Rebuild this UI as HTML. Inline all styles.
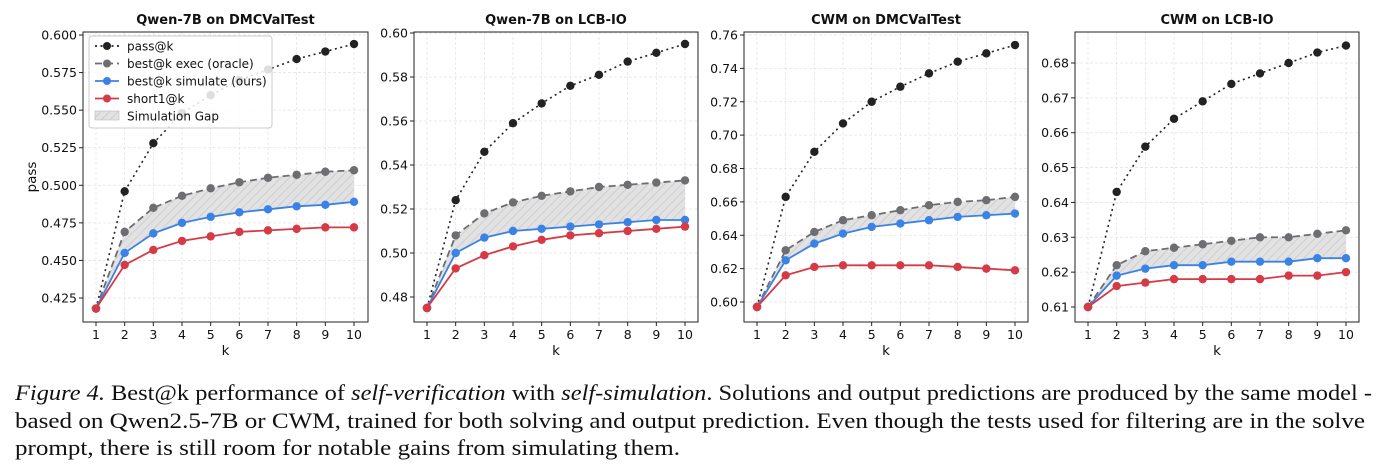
<!DOCTYPE html>
<html><head><meta charset="utf-8"><style>
body{margin:0;background:#fff;width:1385px;height:473px;overflow:hidden}
svg{position:absolute;left:0;top:0}
</style></head><body>
<svg id="fig" width="1385" height="473">
<defs><pattern id="hatch" width="6" height="6" patternUnits="userSpaceOnUse" patternTransform="rotate(45)"><rect width="6" height="6" fill="#e2e2e2"/><line x1="0" y1="0" x2="0" y2="6" stroke="#c8c8c8" stroke-width="1.5"/></pattern></defs>
<g font-family="Liberation Serif, serif" font-size="22" fill="#111">
<text x="15" y="400" textLength="1357" lengthAdjust="spacingAndGlyphs"><tspan font-style="italic">Figure 4.</tspan> Best@k performance of <tspan font-style="italic">self-verification</tspan> with <tspan font-style="italic">self-simulation</tspan>. Solutions and output predictions are produced by the same model -</text>
<text x="15" y="428" textLength="1350" lengthAdjust="spacingAndGlyphs">based on Qwen2.5-7B or CWM, trained for both solving and output prediction. Even though the tests used for filtering are in the solve</text>
<text x="15" y="455" textLength="665" lengthAdjust="spacingAndGlyphs">prompt, there is still room for notable gains from simulating them.</text>
</g>
</svg>
<script>
const ks=[1,2,3,4,5,6,7,8,9,10];
const titles=["Qwen-7B on DMCValTest","Qwen-7B on LCB-IO","CWM on DMCValTest","CWM on LCB-IO"];
const passK=[[.418,.496,.528,.548,.560,.570,.577,.584,.589,.594],[.475,.524,.546,.559,.568,.576,.581,.587,.591,.595],[.597,.663,.690,.707,.720,.729,.737,.744,.749,.754],[.610,.643,.656,.664,.669,.674,.677,.680,.683,.685]];
const execK=[[.418,.469,.485,.493,.498,.502,.505,.507,.509,.510],[.475,.508,.518,.523,.526,.528,.530,.531,.532,.533],[.597,.631,.642,.649,.652,.655,.658,.660,.661,.663],[.610,.622,.626,.627,.628,.629,.630,.630,.631,.632]];
const simK=[[.418,.455,.468,.475,.479,.482,.484,.486,.487,.489],[.475,.500,.507,.510,.511,.512,.513,.514,.515,.515],[.597,.625,.635,.641,.645,.647,.649,.651,.652,.653],[.610,.619,.621,.622,.622,.623,.623,.623,.624,.624]];
const shortK=[[.418,.447,.457,.463,.466,.469,.470,.471,.472,.472],[.475,.493,.499,.503,.506,.508,.509,.510,.511,.512],[.597,.616,.621,.622,.622,.622,.622,.621,.620,.619],[.610,.616,.617,.618,.618,.618,.618,.619,.619,.620]];
const yTicks=[[0.425,0.45,0.475,0.5,0.525,0.55,0.575,0.6],[0.48,0.5,0.52,0.54,0.56,0.58,0.6],[0.6,0.62,0.64,0.66,0.68,0.7,0.72,0.74,0.76],[0.61,0.62,0.63,0.64,0.65,0.66,0.67,0.68]];
const yDec=[3,2,2,2];
const L=[{l:83,r:368,x1:96,x10:354,v0:0.425,p0:298,v1:0.6,p1:35},{l:414,r:698,x1:427,x10:685,v0:0.48,p0:297,v1:0.6,p1:33},{l:744,r:1028,x1:757,x10:1015,v0:0.6,p0:302,v1:0.76,p1:35},{l:1075,r:1359,x1:1088,x10:1346,v0:0.61,p0:307,v1:0.68,p1:63}];
const T=32,B=322,NS="http://www.w3.org/2000/svg";
const svg=document.getElementById('fig');
function mk(tag,a,parent){const e=document.createElementNS(NS,tag);for(const k in a)e.setAttribute(k,a[k]);(parent||svg).appendChild(e);return e;}
const F='"DejaVu Sans","Liberation Sans",sans-serif';
L.forEach((g,i)=>{
  const grp=mk('g',{});
  
  
  const xs=k=>g.x1+(k-1)*(g.x10-g.x1)/9;
  const ys=v=>g.p0+(v-g.v0)*(g.p1-g.p0)/(g.v1-g.v0);
  ks.forEach(k=>{mk('line',{x1:xs(k),x2:xs(k),y1:T,y2:B,stroke:'#e4e4e4','stroke-width':0.8,'stroke-dasharray':'3 2'},grp);
    const t=mk('text',{x:xs(k),y:B+17,'text-anchor':'middle','font-family':F,'font-size':12.5,fill:'#111'},grp);t.textContent=k;
    
    mk('line',{x1:xs(k),x2:xs(k),y1:B,y2:B+4,stroke:'#222'},grp);});
  yTicks[i].forEach(v=>{const y=ys(v);mk('line',{x1:g.l,x2:g.r,y1:y,y2:y,stroke:'#e4e4e4','stroke-width':0.8,'stroke-dasharray':'3 2'},grp);
    mk('line',{x1:g.l-4,x2:g.l,y1:y,y2:y,stroke:'#222'},grp);
    const t=mk('text',{x:g.l-6,y:y+4.5,'text-anchor':'end','font-family':F,'font-size':12.5,fill:'#111'},grp);t.textContent=v.toFixed(yDec[i]);
    });
  let d='M'+ks.map((k,j)=>xs(k)+','+ys(execK[i][j])).join('L')+'L'+ks.slice().reverse().map((k,j)=>xs(k)+','+ys(simK[i][9-j])).join('L')+'Z';
  const ar=mk('path',{d:d,fill:'url(#hatch)',stroke:'none'},grp);
  
  const series=[[passK[i],'#222','1.6','2 3.5','pass-at-k-line'],[execK[i],'#6e6e72','1.8','7 4','best-exec-line'],[simK[i],'#3b82e6','1.8','','best-simulate-line'],[shortK[i],'#d53a45','1.8','','short1-line']];
  series.forEach(s=>{const pth='M'+ks.map((k,j)=>xs(k)+','+ys(s[0][j])).join('L');
    const ln=mk('path',{d:pth,fill:'none',stroke:s[1],'stroke-width':s[2],'stroke-dasharray':s[3]},grp);
    
    ks.forEach((k,j)=>{const c=mk('circle',{cx:xs(k),cy:ys(s[0][j]),r:4.2,fill:s[1]},grp);});});
  mk('rect',{x:g.l,y:T,width:g.r-g.l,height:B-T,fill:'none',stroke:'#222','stroke-width':1},grp);
  const tt=mk('text',{x:(g.l+g.r)/2,y:24,'text-anchor':'middle','font-family':F,'font-size':13,'font-weight':'bold',fill:'#111'},grp);tt.textContent=titles[i];
  
  const xl=mk('text',{x:(g.l+g.r)/2,y:355,'text-anchor':'middle','font-family':F,'font-size':13.5,fill:'#111'},grp);xl.textContent='k';
  
});
const yl=mk('text',{x:0,y:0,transform:'translate(36,177) rotate(-90)','text-anchor':'middle','font-family':F,'font-size':13.5,fill:'#111'});yl.textContent='pass';

const lg=mk('g',{});

mk('rect',{x:89,y:36,width:183,height:92,rx:3,fill:'#fff','fill-opacity':0.85,stroke:'#ccc'},lg);
const ent=[['pass@k','#222','2 3.5'],['best@k exec (oracle)','#6e6e72','7 4'],['best@k simulate (ours)','#3b82e6',''],['short1@k','#d53a45','']];
ent.forEach((e,j)=>{const y=46+j*17.5;
  const le=mk('g',{},lg);
  mk('line',{x1:95,x2:119,y1:y,y2:y,stroke:e[1],'stroke-width':1.8,'stroke-dasharray':e[2]},le);
  mk('circle',{cx:107,cy:y,r:4,fill:e[1]},le);
  const t=mk('text',{x:127,y:y+4.5,'font-family':F,'font-size':12,fill:'#111'},le);t.textContent=e[0];});
const le=mk('g',{},lg);
mk('rect',{x:95,y:111,width:24,height:9,fill:'url(#hatch)',stroke:'#bbb','stroke-width':0.6},le);
const tg=mk('text',{x:127,y:120.5,'font-family':F,'font-size':12,fill:'#111'},le);tg.textContent='Simulation Gap';
</script>
</body></html>
